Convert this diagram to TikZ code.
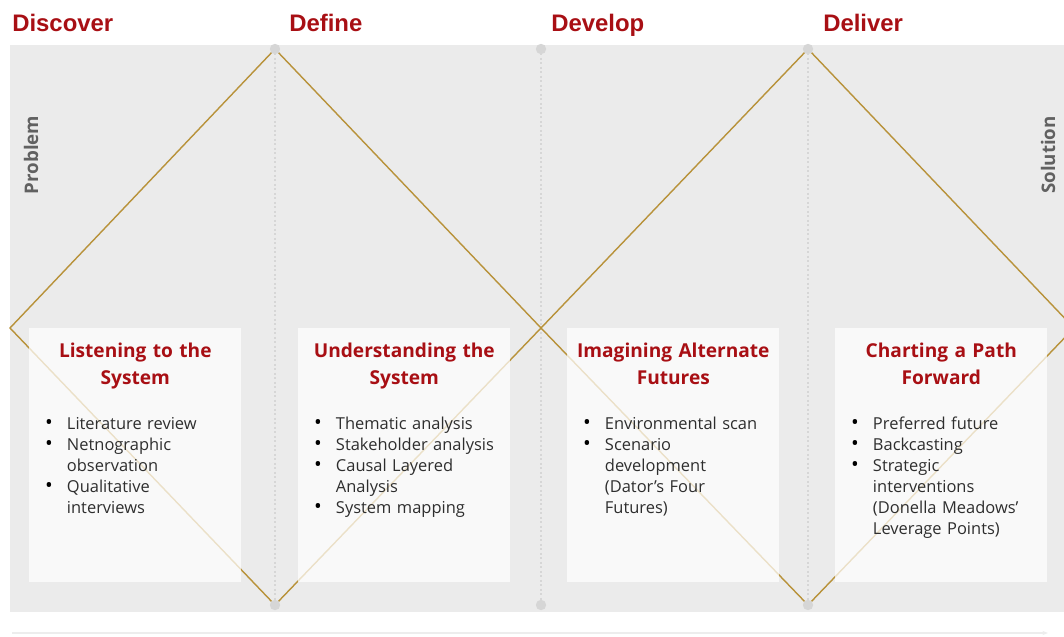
\documentclass[tikz,border=0pt]{standalone}
\usepackage{fontspec}
\setmainfont{Open Sans}
\newfontfamily\phasefont{Liberation Sans}
\usepackage{enumitem}
\usetikzlibrary{positioning,arrows.meta}

\definecolor{phasered}{HTML}{A80F14}
\definecolor{panelgrey}{HTML}{EBEBEB}
\definecolor{rimgold}{HTML}{B8923A}
\definecolor{capgrey}{HTML}{D6D6D6}
\definecolor{bodytext}{HTML}{2E2E2E}

\tikzset{
    phase/.style={anchor=base west,inner sep=0pt,text=phasered,
        font=\phasefont\fontsize{17}{20}\selectfont\bfseries},
    side/.style={rotate=90,inner sep=0pt,text=black!62,
        font=\fontsize{13.3}{15}\selectfont\bfseries},
    rim/.style={rimgold,line width=1pt,line join=miter},
    dotcap/.style={circle,fill=capgrey,inner sep=0pt,minimum size=0.26cm},
    divider/.style={capgrey,line width=1.2pt,dotted},
    card/.style={anchor=north west,fill=white,fill opacity=0.72,inner sep=0pt,
        minimum width=5.3cm,minimum height=6.35cm},
    cardhead/.style={anchor=north,inner sep=0pt,text width=5.3cm,align=center,
        text=phasered,font=\fontsize{13.6}{19.2}\selectfont\bfseries},
    cardlist/.style={anchor=north west,inner sep=0pt,text width=4.5cm,text=bodytext,
        font=\fontsize{11.7}{14.9}\selectfont}
}
\setlist[itemize]{nosep,leftmargin=14pt,labelsep=10pt,
    label={\color{black}\scalebox{1.25}{\textbullet}}}

\begin{document}
\begin{tikzpicture}[x=0.025cm,y=-0.025cm]
    \useasboundingbox (0,0) rectangle (1064,637);
    \clip (0,0) rectangle (1064,637);

    % grey backdrop
    \fill[panelgrey] (10,45) rectangle (1064,612);

    % phase titles
    \node[phase] (discover) at (12,32) {Discover};
    \node[phase] (define) at (289,32) {Define};
    \node[phase] (develop) at (551,32) {Develop};
    \node[phase] (deliver) at (823,32) {Deliver};

    \node[side] (problem) at (31,155) {Problem};
    \node[side] (solution) at (1048,155) {Solution};

    % diamond corners on the middle line
    \coordinate (w1) at (10,328);
    \coordinate (w2) at (541,328);
    \coordinate (w3) at (1074,328);

    % dotted dividers with their end caps
    \foreach \i/\x in {1/275,2/541,3/808} {
        \coordinate (t\i) at (\x,49);
        \coordinate (b\i) at (\x,605);
        \draw[divider] (t\i) -- (b\i);
    }

    % the two diamonds
    \draw[rim] (w1) -- (t1) -- (w2) -- (b1) -- cycle;
    \draw[rim] (w2) -- (t3) -- (w3) -- (b3) -- cycle;

    \foreach \i in {1,2,3} {
        \node[dotcap] (tc\i) at (t\i) {};
        \node[dotcap] (bc\i) at (b\i) {};
    }

    % cards
    \node[card] (listen) at (29,328) {};
    \node[card] (understand) at (298,328) {};
    \node[card] (imagine) at (567,328) {};
    \node[card] (chart) at (835,328) {};

    \node[cardhead,below=0.37cm of listen.north] (listenhead) {Listening to the\\System};
    \node[cardhead,below=0.37cm of understand.north] (understandhead) {Understanding the\\System};
    \node[cardhead,below=0.37cm of imagine.north] (imaginehead) {Imagining Alternate\\Futures};
    \node[cardhead,below=0.37cm of chart.north] (charthead) {Charting a Path\\Forward};

    \node[cardlist] (listenlist) at ([xshift=0.45cm,yshift=-2.0cm]listen.north west) {%
        \begin{itemize}
            \item Literature review
            \item Netnographic observation
            \item Qualitative interviews
        \end{itemize}};
    \node[cardlist] (understandlist) at ([xshift=0.45cm,yshift=-2.0cm]understand.north west) {%
        \begin{itemize}
            \item Thematic analysis
            \item Stakeholder analysis
            \item Causal Layered Analysis
            \item System mapping
        \end{itemize}};
    \node[cardlist] (imaginelist) at ([xshift=0.45cm,yshift=-2.0cm]imagine.north west) {%
        \begin{itemize}
            \item Environmental scan
            \item Scenario development (Dator's Four Futures)
        \end{itemize}};
    \node[cardlist] (chartlist) at ([xshift=0.45cm,yshift=-2.0cm]chart.north west) {%
        \begin{itemize}
            \item Preferred future
            \item Backcasting
            \item Strategic interventions (Donella Meadows' Leverage Points)
        \end{itemize}};

    % faint axis along the bottom
    \coordinate (axstart) at (12,633);
    \coordinate (axend) at (1048,633);
    \draw[black!7,line width=0.8pt,-{Stealth[length=4pt]}] (axstart) -- (axend);
\end{tikzpicture}
\end{document}
